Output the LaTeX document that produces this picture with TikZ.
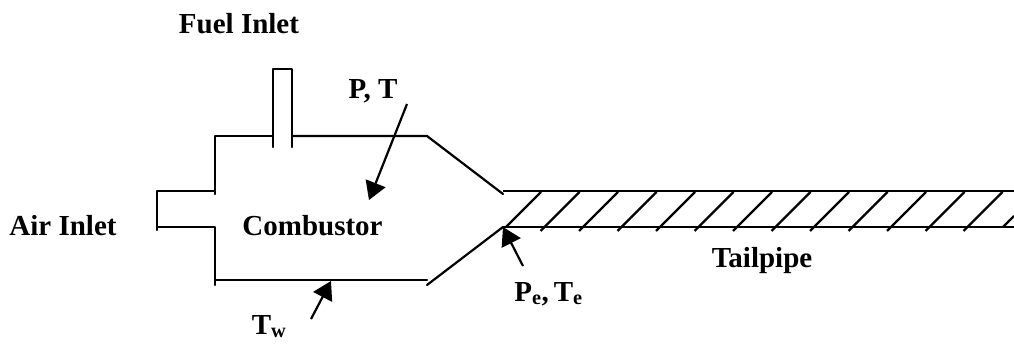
\documentclass[tikz,border=0pt]{standalone}
\usepackage{fontspec}
\setmainfont{Liberation Serif}
\usetikzlibrary{arrows.meta}
\tikzset{
  wall/.style={line width=2.2pt,line cap=round,line join=round,black},
  hatchline/.style={line width=2.2pt,line cap=butt,black},
  pointer/.style={line width=2.2pt,black,-{Triangle[length=18pt,width=21pt]},shorten >=0pt},
  label/.style={font=\fontsize{29}{32}\selectfont\bfseries,anchor=base,inner sep=0pt,text=black}
}
\begin{document}
\begin{tikzpicture}[x=1pt,y=-1pt]
\useasboundingbox (0,0) rectangle (1014,343);
% walls
\draw[wall] (273,147) -- (273,69) -- (292,69) -- (292,147);
\draw[wall] (215,194) -- (215,136) -- (273,136);
\draw[wall] (292,136) -- (427,136) -- (503,194);
\draw[wall] (215,191) -- (157,191) -- (157,230);
\draw[wall] (157,227) -- (215,227) -- (215,285);
\draw[wall] (215,280) -- (427,280);
\draw[wall] (427,285) -- (503,227);
\draw[wall,line cap=butt] (503,191) -- (1014,191);
\draw[wall,line cap=butt] (503,227) -- (1014,227);
% hatching
\draw[hatchline] (541,192) -- (506,227);
\foreach \x in {579.5,618,656.5,695,733.5,772,810.5,849,887.5,926,964.5}
  \draw[hatchline] (\x,192) -- (\x-39,231);
\draw[hatchline] (1002.5,192) -- (963.5,231);
\draw[hatchline] (1014,216) -- (1003,227);
% labels
\node[label] (fuel) at (239,33) {Fuel Inlet};
\node[label] (pt) at (373,98) {P, T};
\node[label] (air) at (63,235) {Air Inlet};
\node[label] (comb) at (312.5,235) {Combustor};
\node[label] (tail) at (762,267) {Tailpipe};
\node[label] (pete) at (548.5,301) {P\textsubscript{e},\hspace{5pt}T\textsubscript{e}};
\node[label] (tw) at (269,334) {T\textsubscript{w}};
% pointers
\coordinate (ptS) at (407,104);
\coordinate (ptE) at (369,200);
\coordinate (twS) at (311,319);
\coordinate (twE) at (331,281);
\coordinate (peS) at (523,266);
\coordinate (peE) at (503,227);
\draw[pointer] (ptS) -- (ptE);
\draw[pointer] (twS) -- (twE);
\draw[pointer] (peS) -- (peE);
\end{tikzpicture}
\end{document}
